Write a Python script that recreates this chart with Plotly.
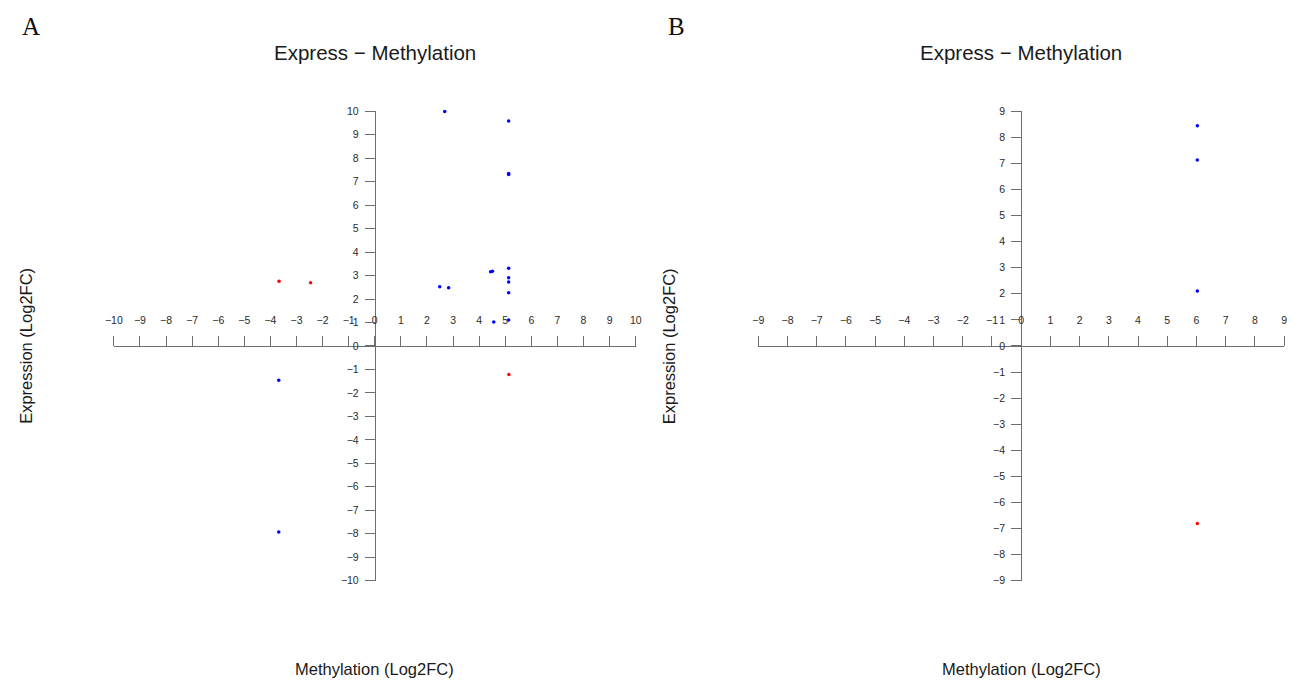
import plotly.graph_objects as go

# ---- data ----
a_blue_x = [2.68, 5.13, 5.13, 5.13, 4.44, 4.51, 5.13, 5.13, 5.13, 5.13, 2.49, 2.83, 4.56, 5.13, -3.68, -3.68]
a_blue_y = [9.99, 9.58, 7.35, 7.30, 3.16, 3.18, 3.31, 2.91, 2.73, 2.27, 2.52, 2.48, 1.02, 1.11, -1.46, -7.93]
a_red_x = [-3.67, -2.46, 5.14]
a_red_y = [2.76, 2.69, -1.22]

b_blue_x = [6.03, 6.03, 6.03]
b_blue_y = [8.44, 7.13, 2.11]
b_red_x = [6.03]
b_red_y = [-6.81]

a_lim = 10
b_lim = 9

# page is 1306x687 including the default 8px body margin
PAD = 8
W, H = 1306 - 2 * PAD, 687 - 2 * PAD

def px(x):
    return (x - PAD) / W

def py(y):
    return 1 - (y - PAD) / H

xa_dom = [px(106), px(634)]
xb_dom = [px(758), px(1290)]
y_dom = [py(585), py(107)]

def mid(d):
    return (d[0] + d[1]) / 2

fig = go.Figure()
mk = dict(size=3.5, line=dict(width=0))
fig.add_trace(go.Scatter(x=a_blue_x, y=a_blue_y, mode="markers", marker=dict(color="#0000FF", **mk), xaxis="x", yaxis="y", cliponaxis=False))
fig.add_trace(go.Scatter(x=a_red_x, y=a_red_y, mode="markers", marker=dict(color="#FF0000", **mk), xaxis="x", yaxis="y", cliponaxis=False))
fig.add_trace(go.Scatter(x=b_blue_x, y=b_blue_y, mode="markers", marker=dict(color="#0000FF", **mk), xaxis="x2", yaxis="y2", cliponaxis=False))
fig.add_trace(go.Scatter(x=b_red_x, y=b_red_y, mode="markers", marker=dict(color="#FF0000", **mk), xaxis="x2", yaxis="y2", cliponaxis=False))

tickfont = dict(family="Liberation Sans, Arial", size=10.5, color="#2a2a2a")
line_col = "#6e6e6e"

def xax(dom, lim):
    return dict(domain=dom, range=[-lim, lim], anchor="free", position=mid(y_dom), side="top",
                showline=True, linecolor=line_col, linewidth=1, ticks="outside", ticklen=10,
                tickcolor=line_col, tickwidth=1, dtick=1, tick0=0, showgrid=False, zeroline=False,
                tickfont=tickfont, ticklabelstandoff=8, fixedrange=True)

def yax(dom_x, lim):
    return dict(domain=y_dom, range=[-lim, lim], anchor="free", position=mid(dom_x), side="left",
                showline=True, linecolor=line_col, linewidth=1, ticks="outside", ticklen=10,
                tickcolor=line_col, tickwidth=1, dtick=1, tick0=0, showgrid=False, zeroline=False,
                tickfont=tickfont, ticklabelstandoff=4, fixedrange=True)

fig.update_layout(
    width=W, height=H, margin=dict(l=0, r=0, t=0, b=0),
    paper_bgcolor="white", plot_bgcolor="white", showlegend=False,
    xaxis=xax(xa_dom, a_lim), yaxis=yax(xa_dom, a_lim),
    xaxis2=xax(xb_dom, b_lim), yaxis2=yax(xb_dom, b_lim),
)

title_font = dict(family="Liberation Sans, Arial", size=20.5, color="#1a1a1a")
lab_font = dict(family="Liberation Sans, Arial", size=16.5, color="#1a1a1a")
panel_font = dict(family="Liberation Serif, Times New Roman", size=25, color="#111111")

ann = []
for dom, letter, lx in [(xa_dom, "A", px(22)), (xb_dom, "B", px(675))]:
    cx = mid(dom)
    ann.append(dict(text="Express \u2212 Methylation", x=cx, y=py(47), xref="paper", yref="paper",
                    showarrow=False, font=title_font, xanchor="center", yanchor="middle"))
    ann.append(dict(text="Methylation (Log2FC)", x=cx, y=py(675), xref="paper", yref="paper",
                    showarrow=False, font=lab_font, xanchor="center", yanchor="middle"))
    ann.append(dict(text=letter, x=lx, y=py(21), xref="paper", yref="paper",
                    showarrow=False, font=panel_font, xanchor="center", yanchor="middle"))
ann.append(dict(text="Expression (Log2FC)", x=px(17), y=py(346), xref="paper", yref="paper",
                showarrow=False, font=lab_font, textangle=-90, xanchor="center", yanchor="middle"))
ann.append(dict(text="Expression (Log2FC)", x=px(668), y=py(346), xref="paper", yref="paper",
                showarrow=False, font=lab_font, textangle=-90, xanchor="center", yanchor="middle"))
fig.update_layout(annotations=ann)

fig.write_html("out.html", config={"displayModeBar": False})
